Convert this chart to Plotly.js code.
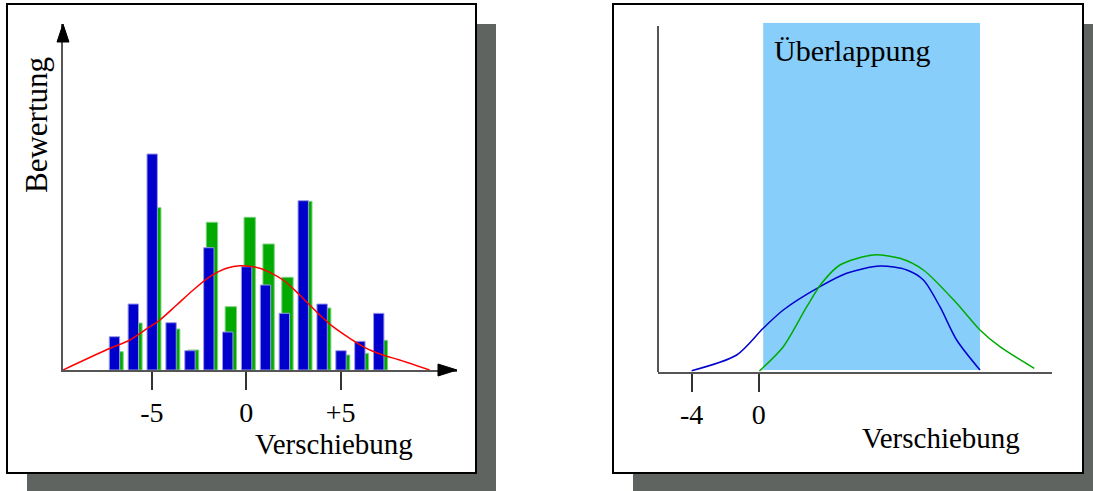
<!DOCTYPE html>
<html>
<head>
<meta charset="utf-8">
<script src="https://cdn.plot.ly/plotly-3.0.1.min.js"></script>
<style>html,body{margin:0;padding:0;background:#fff;}#chart{width:1093px;height:491px;}</style>
</head>
<body>
<div id="chart"></div>
<script>
// ---------- Left panel data ----------
const shifts = [-7, -6, -5, -4, -3, -2, -1, 0, 1, 2, 3, 4, 5, 6, 7];
const blueRatings  = [3.33, 6.6, 21.6, 4.73, 1.93, 12.23, 3.8, 10.33, 8.5, 5.67, 16.93, 6.6, 1.93, 2.87, 5.67];
const greenRatings = [1.83, 4.7, 16.23, 4.1, 2.0, 14.77, 6.33, 15.27, 12.6, 9.27, 16.87, 6.2, 1.5, 1.67, 2.97];
const curveX = [-9.71, -7.22, -6.16, -5.11, -4.58, -3.69, -2.81, -1.93, -1.05, -0.34, 0.71, 1.95, 2.83, 3.71, 4.59, 5.48, 6.36, 7.24, 8.12, 9.71];
const curveY = [0, 2.17, 3.0, 4.33, 5.0, 6.5, 8.0, 9.33, 10.17, 10.43, 10.17, 9.0, 7.5, 5.83, 4.33, 3.17, 2.17, 1.5, 1.0, 0];
const leftTickVals = [-5, 0, 5];
const leftTickText = ['-5', '0', '+5'];

// ---------- Right panel data ----------
const blueCurveX = [-4.0, -1.31, 0.27, 1.47, 3.66, 5.25, 7.24, 8.84, 9.83, 10.82, 11.82, 13.21];
const blueCurveY = [0.13, 1.7, 4.37, 6.2, 8.53, 9.87, 10.6, 10.2, 9.2, 6.53, 3.2, 0.2];
const greenCurveX = [0.04, 1.47, 2.87, 3.76, 4.85, 6.84, 8.43, 9.83, 11.82, 13.21, 14.4, 16.45];
const greenCurveY = [0.1, 2.53, 6.53, 8.87, 10.7, 11.7, 11.37, 10.2, 6.87, 4.2, 2.53, 0.37];
const overlapX = [0.27, 13.21];
const overlapY = [0.2, 34.93];
const rightTickVals = [-4, 0];
const rightTickText = ['-4', '0'];

// ---------- Layout helpers ----------
const W = 1093, H = 491;
const px = v => v / W;
const py = v => (H - v) / H;
const serif = 'Liberation Serif, Times New Roman, serif';

const xDomL = [px(63), px(457)], yDomL = [py(370), py(24)];
const xDomR = [px(658), px(1052)], yDomR = [py(372), py(22.7)];
const xRangeL = [-9.71, 11.16], yRangeL = [0, 34.6];
const xRangeR = [-6.01, 17.51], yRangeR = [0, 34.93];

const traces = [
  {type: 'bar', x: shifts, y: greenRatings, xaxis: 'x', yaxis: 'y', width: 0.6, offset: -0.12,
   marker: {color: '#00aa00', line: {color: '#7fd07f', width: 1}}, hoverinfo: 'skip'},
  {type: 'bar', x: shifts, y: blueRatings, xaxis: 'x', yaxis: 'y', width: 0.55, offset: -0.26,
   marker: {color: '#0000cc', line: {color: '#9a9ae6', width: 1}}, hoverinfo: 'skip'},
  {type: 'scatter', mode: 'lines', x: curveX, y: curveY, xaxis: 'x', yaxis: 'y',
   line: {color: '#ff0000', width: 1.5, shape: 'spline', smoothing: 0.8}, hoverinfo: 'skip'},
  {type: 'scatter', mode: 'lines', x: blueCurveX, y: blueCurveY, xaxis: 'x2', yaxis: 'y2',
   line: {color: '#0000cc', width: 1.5, shape: 'spline', smoothing: 0.8}, hoverinfo: 'skip'},
  {type: 'scatter', mode: 'lines', x: greenCurveX, y: greenCurveY, xaxis: 'x2', yaxis: 'y2',
   line: {color: '#00aa00', width: 1.5, shape: 'spline', smoothing: 0.8}, hoverinfo: 'skip'}
];

const axisCommon = {showgrid: false, zeroline: false, fixedrange: true};
const tickAxis = {
  ...axisCommon, showline: true, linecolor: '#555555', linewidth: 2,
  ticks: 'outside', ticklen: 18, tickwidth: 2, tickcolor: '#333333',
  ticklabelstandoff: -2,
  tickfont: {family: serif, size: 28, color: '#000'}
};

const shapes = [
  // shadows
  {type: 'rect', xref: 'paper', yref: 'paper', x0: px(27), x1: px(496), y0: py(495), y1: py(24),
   fillcolor: '#5f6461', line: {width: 0}, layer: 'below'},
  {type: 'rect', xref: 'paper', yref: 'paper', x0: px(633), x1: px(1102), y0: py(495), y1: py(24),
   fillcolor: '#5f6461', line: {width: 0}, layer: 'below'},
  // white boxes
  {type: 'rect', xref: 'paper', yref: 'paper', x0: px(7), x1: px(476), y0: py(473), y1: py(4),
   fillcolor: '#ffffff', line: {color: '#000', width: 2}, layer: 'below'},
  {type: 'rect', xref: 'paper', yref: 'paper', x0: px(613), x1: px(1083), y0: py(473), y1: py(4),
   fillcolor: '#ffffff', line: {color: '#000', width: 2}, layer: 'below'},
  // overlap region
  {type: 'rect', xref: 'x2', yref: 'y2', x0: overlapX[0], x1: overlapX[1], y0: overlapY[0], y1: overlapY[1],
   fillcolor: '#87cefa', line: {width: 0}, layer: 'below'},
  // right y axis line
  {type: 'line', xref: 'paper', yref: 'paper', x0: xDomR[0], x1: xDomR[0], y0: yDomR[0], y1: py(26),
   line: {color: '#555555', width: 2}},
  // arrow heads on left axes
  {type: 'path', xref: 'paper', yref: 'paper', xsizemode: 'pixel', ysizemode: 'pixel',
   xanchor: xDomL[0], yanchor: yDomL[1], path: 'M0,0 L-6,-18 L6,-18 Z',
   fillcolor: '#000', line: {color: '#000', width: 1}},
  {type: 'path', xref: 'paper', yref: 'paper', xsizemode: 'pixel', ysizemode: 'pixel',
   xanchor: xDomL[1], yanchor: yDomL[0], path: 'M0,0 L-19,6 L-19,-6 Z',
   fillcolor: '#000', line: {color: '#000', width: 1}}
];

const annFont = s => ({family: serif, size: s, color: '#000'});
const annotations = [
  {xref: 'paper', yref: 'paper', x: px(253), y: py(444), xanchor: 'left', yanchor: 'middle',
   text: 'Verschiebung', showarrow: false, font: annFont(29)},
  {xref: 'paper', yref: 'paper', x: px(860), y: py(438), xanchor: 'left', yanchor: 'middle',
   text: 'Verschiebung', showarrow: false, font: annFont(29)},
  {xref: 'paper', yref: 'paper', x: px(36), y: py(125), xanchor: 'center', yanchor: 'middle',
   text: 'Bewertung', textangle: -90, showarrow: false, font: annFont(31)},
  {xref: 'paper', yref: 'paper', x: px(772), y: py(51), xanchor: 'left', yanchor: 'middle',
   text: 'Überlappung', showarrow: false, font: annFont(30)}
];

const layout = {
  width: W, height: H, margin: {l: 0, r: 0, t: 0, b: 0, pad: 0},
  paper_bgcolor: '#ffffff', plot_bgcolor: 'rgba(0,0,0,0)',
  showlegend: false, barmode: 'overlay', bargap: 0,
  xaxis: {...tickAxis, domain: xDomL, range: xRangeL, anchor: 'y', tickvals: leftTickVals, ticktext: leftTickText},
  yaxis: {...axisCommon, domain: yDomL, range: yRangeL, anchor: 'x', showline: true, linecolor: '#555555', linewidth: 2,
          showticklabels: false, ticks: ''},
  xaxis2: {...tickAxis, domain: xDomR, range: xRangeR, anchor: 'y2', tickvals: rightTickVals, ticktext: rightTickText},
  yaxis2: {...axisCommon, domain: yDomR, range: yRangeR, anchor: 'x2', showline: false,
           showticklabels: false, ticks: ''},
  shapes: shapes,
  annotations: annotations
};

Plotly.newPlot('chart', traces, layout, {staticPlot: true, displayModeBar: false});
</script>
</body>
</html>
